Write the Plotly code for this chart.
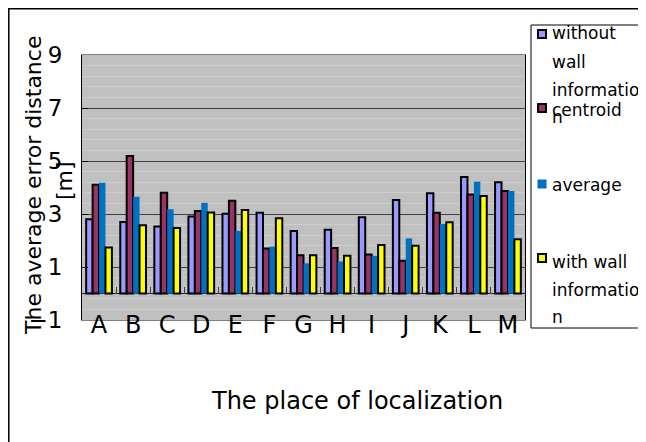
import plotly.graph_objects as go

# ---- data ----
places = ["A", "B", "C", "D", "E", "F", "G", "H", "I", "J", "K", "L", "M"]
series_names = ["without wall information", "centroid", "average", "with wall information"]
without_wall = [2.80, 2.70, 2.53, 2.91, 3.01, 3.05, 2.36, 2.41, 2.88, 3.53, 3.78, 4.40, 4.20]
centroid     = [4.10, 5.19, 3.80, 3.11, 3.50, 1.70, 1.44, 1.72, 1.47, 1.24, 3.05, 3.74, 3.87]
average      = [4.18, 3.65, 3.18, 3.42, 2.36, 1.77, 1.14, 1.21, 1.42, 2.08, 2.62, 4.22, 3.87]
with_wall    = [1.74, 2.58, 2.47, 3.06, 3.15, 2.84, 1.44, 1.42, 1.83, 1.80, 2.69, 3.68, 2.05]
y_ticks = [-1, 1, 3, 5, 7, 9]
legend_lines = [["without", "wall", "informatio", "n"], ["centroid"], ["average"],
                ["with wall", "informatio", "n"]]

colors = ["#9999FF", "#993366", "#0070C0", "#FFFF00"]
outline = [2, 2, 0, 2]
values = [without_wall, centroid, average, with_wall]

OFF = 8  # page body margin
W, H = 646 - OFF, 442 - OFF
# plot area in screenshot pixels
SL, SR, ST, SB = 82, 525, 55, 320
L, R, T, B = SL - OFF, SR - OFF, ST - OFF, SB - OFF
FONT = "DejaVu Sans"

def px(x):
    return (x - SL) / (SR - SL)

def py(y):
    return (SB - y) / (SB - ST)

fig = go.Figure()
for name, vals, c, lw in zip(series_names, values, colors, outline):
    fig.add_trace(go.Bar(x=places, y=vals, name=name,
                         marker=dict(color=c, line=dict(color="black", width=lw)),
                         showlegend=False))
# helper axis for the category boundary ticks on the zero line
fig.add_trace(go.Scatter(x=[], y=[], xaxis="x2", yaxis="y", showlegend=False))

fig.update_layout(
    width=W, height=H,
    margin=dict(l=L, r=W - R, t=T, b=H - B, pad=0),
    paper_bgcolor="white", plot_bgcolor="#C0C0C0",
    barmode="group", bargap=0.245, bargroupgap=0,
    font=dict(family=FONT, color="black"),
    xaxis=dict(type="category", showline=True, linecolor="#808080", linewidth=1, mirror=True,
               ticks="", showgrid=False, tickfont=dict(size=24, family=FONT, color="black"),
               ticklabelstandoff=-17),
    xaxis2=dict(overlaying="x", anchor="free", position=0.1, type="linear", range=[-0.5, 12.5],
                tickvals=[i - 0.5 for i in range(len(places) + 1)], ticks="inside", ticklen=7,
                tickcolor="#404040", showticklabels=False, showgrid=False, showline=False,
                zeroline=False),
    yaxis=dict(range=[-1, 9], tickvals=y_ticks, ticks="inside", ticklen=6, tickcolor="black",
               showline=True, linecolor="black", linewidth=1, mirror=True,
               gridcolor="#404040", gridwidth=1,
               zeroline=True, zerolinecolor="#202020", zerolinewidth=1,
               minor=dict(dtick=0.4, tick0=-1, showgrid=True, gridcolor="#CDCDCD", gridwidth=1),
               tickfont=dict(size=23, family=FONT, color="black"), ticklabelstandoff=14),
)

shapes = []
# outer frame (left and top visible)
shapes.append(dict(type="rect", xref="paper", yref="paper", x0=px(OFF + 0.8), y0=py(OFF + 0.8),
                   x1=px(760), y1=py(600),
                   line=dict(color="black", width=1.5), fillcolor="rgba(0,0,0,0)", layer="above"))
# legend box
shapes.append(dict(type="rect", xref="paper", yref="paper", x0=px(531), y0=py(25), x1=px(643), y1=py(328),
                   line=dict(color="black", width=1), fillcolor="white", layer="above"))

annotations = []
marker_y = [34, 108, 184, 258]
line_y = [[33, 62, 90, 117], [110], [185], [262, 290, 317]]
for i in range(4):
    s = 4 if outline[i] else 4.5
    shapes.append(dict(type="rect", xref="paper", yref="paper",
                       x0=px(542 - s), x1=px(542 + s), y0=py(marker_y[i] + s), y1=py(marker_y[i] - s),
                       fillcolor=colors[i],
                       line=dict(color="black", width=2 if outline[i] else 0), layer="above"))
    for txt, yy in zip(legend_lines[i], line_y[i]):
        annotations.append(dict(text=txt, xref="paper", yref="paper", x=px(550), y=py(yy),
                                xanchor="left", yanchor="middle", showarrow=False,
                                font=dict(size=17, family=FONT, color="black")))

annotations.append(dict(text="The average error distance", xref="paper", yref="paper",
                        x=px(33), y=py(186), textangle=-90, xanchor="center", yanchor="middle",
                        showarrow=False, font=dict(size=22, family=FONT, color="black")))
annotations.append(dict(text="[m]", xref="paper", yref="paper",
                        x=px(64), y=py(181), textangle=-90, xanchor="center", yanchor="middle",
                        showarrow=False, font=dict(size=22, family=FONT, color="black")))
annotations.append(dict(text="The place of localization", xref="paper", yref="paper",
                        x=px(357), y=py(401), xanchor="center", yanchor="middle",
                        showarrow=False, font=dict(size=24, family=FONT, color="black")))

fig.update_layout(shapes=shapes, annotations=annotations)
fig.write_html("out.html")
